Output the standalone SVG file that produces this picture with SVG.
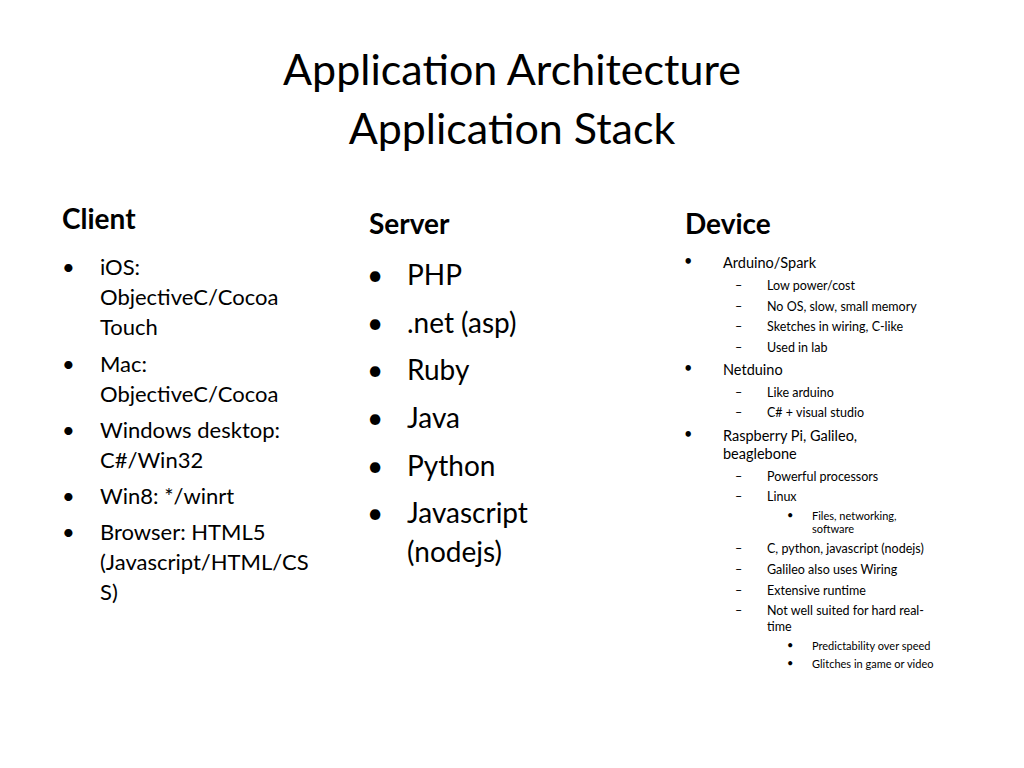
<svg xmlns="http://www.w3.org/2000/svg" width="1024" height="768" viewBox="0 0 1024 768">
<style>
text{font-family:Lato,"Open Sans","Liberation Sans",sans-serif;fill:#000}
.t{font-size:43px;text-anchor:middle}
.h{font-size:28px;font-weight:bold}
.c{font-size:22px}
.s{font-size:28px}
.d1{font-size:14.5px}
.d2{font-size:12.5px}
.d3{font-size:11px}
</style>
<rect width="1024" height="768" fill="#fff"/>
<text class="t" x="512" y="85">Application Architecture</text>
<text class="t" x="512" y="144">Application Stack</text>
<g id="client">
<text class="h" x="62" y="229">Client</text>
<g class="c">
<text x="62" y="275">•</text><text x="100" y="275">iOS:</text>
<text x="100" y="305">ObjectiveC/Cocoa</text><text x="100" y="335">Touch</text>
<text x="62" y="372">•</text><text x="100" y="372">Mac:</text>
<text x="100" y="402">ObjectiveC/Cocoa</text>
<text x="62" y="438">•</text><text x="100" y="438">Windows desktop:</text>
<text x="100" y="468">C#/Win32</text>
<text x="62" y="504">•</text><text x="100" y="504">Win8: */winrt</text>
<text x="62" y="540">•</text><text x="100" y="540">Browser: HTML5</text>
<text x="100" y="570">(Javascript/HTML/CS</text>
<text x="100" y="600">S)</text>
</g></g>
<g id="server">
<text class="h" x="369" y="234">Server</text>
<g class="s">
<text x="367" y="285">•</text><text x="407" y="285">PHP</text>
<text x="367" y="333">•</text><text x="407" y="333">.net (asp)</text>
<text x="367" y="380">•</text><text x="407" y="380">Ruby</text>
<text x="367" y="428">•</text><text x="407" y="428">Java</text>
<text x="367" y="476">•</text><text x="407" y="476">Python</text>
<text x="367" y="523">•</text><text x="407" y="523">Javascript</text>
<text x="407" y="562">(nodejs)</text>
</g></g>
<g id="device">
<text class="h" x="685" y="234">Device</text>
<g class="d1">
<text x="684" y="266">•</text><text x="723" y="268">Arduino/Spark</text>
<text x="684" y="373">•</text><text x="723" y="375">Netduino</text>
<text x="684" y="439">•</text><text x="723" y="441">Raspberry Pi, Galileo,</text>
<text x="723" y="459">beaglebone</text>
</g>
<g class="d2">
<text x="735" y="290">–</text><text x="767" y="290">Low power/cost</text>
<text x="735" y="311">–</text><text x="767" y="311">No OS, slow, small memory</text>
<text x="735" y="331">–</text><text x="767" y="331">Sketches in wiring, C-like</text>
<text x="735" y="352">–</text><text x="767" y="352">Used in lab</text>
<text x="735" y="397">–</text><text x="767" y="397">Like arduino</text>
<text x="735" y="417">–</text><text x="767" y="417">C# + visual studio</text>
<text x="735" y="481">–</text><text x="767" y="481">Powerful processors</text>
<text x="735" y="501">–</text><text x="767" y="501">Linux</text>
<text x="735" y="553">–</text><text x="767" y="553">C, python, javascript (nodejs)</text>
<text x="735" y="574">–</text><text x="767" y="574">Galileo also uses Wiring</text>
<text x="735" y="595">–</text><text x="767" y="595">Extensive runtime</text>
<text x="735" y="615">–</text><text x="767" y="615">Not well suited for hard real-</text>
<text x="767" y="631">time</text>
</g>
<g class="d3">
<text x="787" y="519">•</text><text x="812" y="520">Files, networking,</text>
<text x="812" y="533">software</text>
<text x="787" y="649">•</text><text x="812" y="650">Predictability over speed</text>
<text x="787" y="667">•</text><text x="812" y="668">Glitches in game or video</text>
</g></g>
</svg>
